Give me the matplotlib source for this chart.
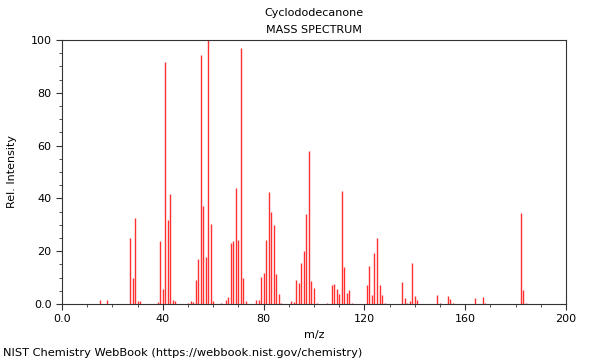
import matplotlib
matplotlib.use("Agg")
import matplotlib.pyplot as plt
from matplotlib.ticker import MultipleLocator, FuncFormatter

mz = [15, 18, 27, 28, 29, 30, 31, 38, 39, 40, 41, 42, 43, 44, 45,
      50, 51, 52, 53, 54, 55, 56, 57, 58, 59, 60, 63, 65, 66, 67, 68, 69, 70, 71, 72, 73,
      77, 78, 79, 80, 81, 82, 83, 84, 85, 86, 87, 91, 92, 93, 94, 95, 96, 97, 98, 99, 100, 101,
      105, 107, 108, 109, 110, 111, 112, 113, 114, 115,
      121, 122, 123, 124, 125, 126, 127, 128,
      135, 136, 137, 138, 139, 140, 141,
      149, 150, 153, 154, 155, 164, 167, 168, 182, 183, 184]
intensity = [1.5, 1.5, 25.0, 9.8, 32.4, 1.0, 1.0, 0.8, 24.0, 5.7, 91.8, 31.8, 41.7, 1.5, 1.0,
             0.5, 1.0, 0.7, 9.1, 17.0, 94.3, 37.1, 17.7, 100.0, 30.3, 1.0, 0.3, 1.5, 2.5, 23.0, 23.9, 43.8, 24.2, 96.8, 9.7, 1.0,
             1.5, 1.5, 10.4, 11.6, 24.2, 42.3, 35.0, 29.9, 11.4, 3.7, 0.5, 1.0, 0.7, 9.1, 7.8, 15.7, 20.2, 34.1, 58.0, 8.6, 5.9, 0.5,
             0.3, 7.2, 7.4, 5.7, 3.7, 42.8, 14.0, 4.0, 5.2, 0.5,
             7.2, 14.4, 3.4, 19.2, 25.0, 7.2, 3.5, 0.5,
             8.2, 2.1, 0.5, 1.0, 15.4, 3.0, 1.5,
             3.4, 0.3, 3.0, 1.9, 0.3, 2.3, 2.8, 0.5, 34.3, 5.3, 0.5]

fig = plt.figure(figsize=(6, 3.6), dpi=100)
ax = fig.add_axes([62/600, 1-304/360, (566-62)/600, (304-40)/360])
ax.vlines(mz, 0, intensity, colors='#ff3030', linewidth=1.0)
ax.set_xlim(0, 200)
ax.set_ylim(0, 100)
ax.xaxis.set_major_locator(MultipleLocator(40))
ax.xaxis.set_minor_locator(MultipleLocator(10))
ax.yaxis.set_major_locator(MultipleLocator(20))
ax.yaxis.set_minor_locator(MultipleLocator(5))
fmt = FuncFormatter(lambda v, p: "0.0" if v == 0 else f"{v:.0f}")
ax.xaxis.set_major_formatter(fmt)
ax.yaxis.set_major_formatter(fmt)
ax.tick_params(which='both', direction='out', labelsize=8, color='#333333')
ax.tick_params(which='major', length=4)
ax.tick_params(which='minor', length=2)
for s in ax.spines.values():
    s.set_color('#333333')
    s.set_linewidth(0.8)
ax.set_xlabel("m/z", fontsize=8)
ax.set_ylabel("Rel. Intensity", fontsize=8, labelpad=10)
fig.text(314/600, 1-13/360, "Cyclododecanone", ha='center', va='center', fontsize=8)
fig.text(314/600, 1-30/360, "MASS SPECTRUM", ha='center', va='center', fontsize=8)
fig.text(3/600, 1-353/360, "NIST Chemistry WebBook (https://webbook.nist.gov/chemistry)",
         ha='left', va='center', fontsize=8.2)
fig.savefig("out.png", dpi=100)
